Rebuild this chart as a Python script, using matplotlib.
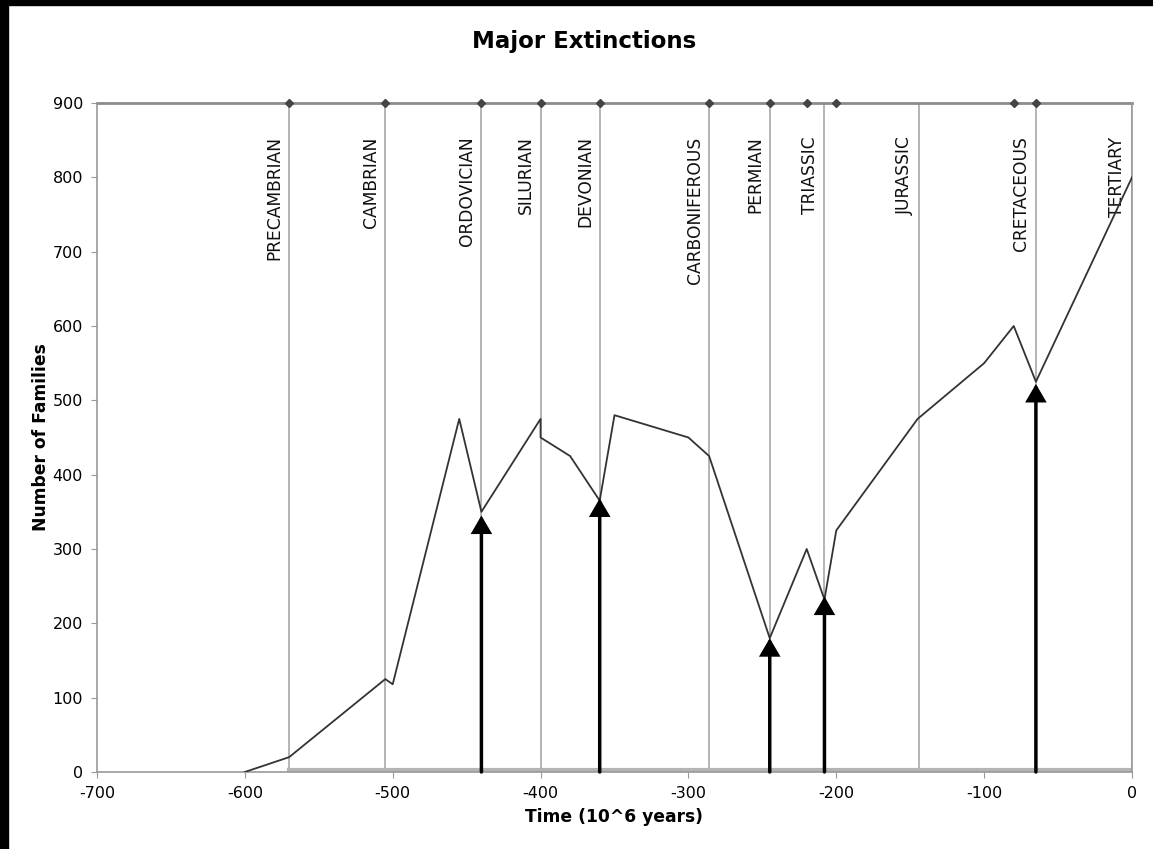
import numpy as np
import matplotlib.pyplot as plt
from matplotlib.patches import Rectangle

plt.rcParams['font.family'] = ['DejaVu Sans']
plt.rcParams['axes.unicode_minus'] = False

# Families through time (millions of years ago)
time_mya = [-600, -570, -505, -500, -455, -440, -400, -400, -380, -360, -350,
            -300, -286, -245, -220, -208, -200, -145, -100, -80, -65, 0]
families = [0, 20, 125, 118, 475, 350, 475, 450, 425, 365, 480,
            450, 425, 180, 300, 232, 325, 475, 550, 600, 525, 800]

# Geological period boundaries and their names
period_bounds = [-570, -505, -440, -400, -360, -286, -245, -208, -144, -65, 0]
period_names = ['PRECAMBRIAN', 'CAMBRIAN', 'ORDOVICIAN', 'SILURIAN', 'DEVONIAN',
                'CARBONIFEROUS', 'PERMIAN', 'TRIASSIC', 'JURASSIC', 'CRETACEOUS',
                'TERTIARY']

# Marker points along the top edge
top_marks = [-570, -505, -440, -400, -360, -286, -245, -220, -200, -80, -65]

# Major extinction events and the arrow tip heights
extinct_time = [-440, -360, -245, -208, -65]
extinct_level = [345, 368, 180, 236, 522]

fig = plt.figure(figsize=(11.53, 8.49), dpi=100)
ax = fig.add_axes([0.0841, 0.0907, 0.8977, 0.788])

grey = '#b4b4b4'
for x in period_bounds:
    ax.plot([x, x], [4, 900], color=grey, lw=1.4, zorder=1)
ax.plot([period_bounds[0], 0], [3, 3], color=grey, lw=3, zorder=1)
ax.plot([-700, 0], [900, 900], color='#8c8c8c', lw=2, zorder=2, clip_on=False)
ax.plot(top_marks, [900] * len(top_marks), ls='none', marker='D', ms=4.5,
        color='#444444', zorder=3, clip_on=False)

for x, name in zip(period_bounds, period_names):
    ax.annotate(name, xy=(x, 855), xytext=(-4, 0), textcoords='offset points',
                rotation=90, ha='right', va='top', fontsize=12.3, color='#111111')

ax.plot(time_mya, families, color='#333333', lw=1.3, zorder=4)

for x, y in zip(extinct_time, extinct_level):
    ax.annotate('', xy=(x, y), xytext=(x, 0),
                arrowprops=dict(arrowstyle='-|>,head_length=0.48,head_width=0.28',
                                mutation_scale=20, lw=2.5, color='black',
                                joinstyle='miter', shrinkA=0, shrinkB=0),
                zorder=5)

ax.set_xlim(-700, 0)
ax.set_ylim(0, 900)
ax.set_xticks(np.arange(-700, 1, 100))
ax.set_yticks(np.arange(0, 901, 100))
ax.tick_params(labelsize=11.5, length=4, color='#999999', pad=6)
for s in ['left', 'bottom', 'right']:
    ax.spines[s].set_color('#999999')
    ax.spines[s].set_linewidth(1.2)
ax.spines['top'].set_visible(False)

fig.text(0.507, 0.951, 'Major Extinctions', ha='center', va='center',
         fontsize=16.5, fontweight='bold')
ax.set_xlabel('Time (10^6 years)', fontsize=12.3, fontweight='bold', labelpad=5)
ax.set_ylabel('Number of Families', fontsize=12.3, fontweight='bold', labelpad=2)

# dark frame strips on the left and top edges
fig.patches.append(Rectangle((0, 0), 0.007, 1, transform=fig.transFigure,
                             color='black', zorder=0))
fig.patches.append(Rectangle((0, 0.994), 1, 0.006, transform=fig.transFigure,
                             color='black', zorder=0))

fig.savefig('out.png', dpi=100)
